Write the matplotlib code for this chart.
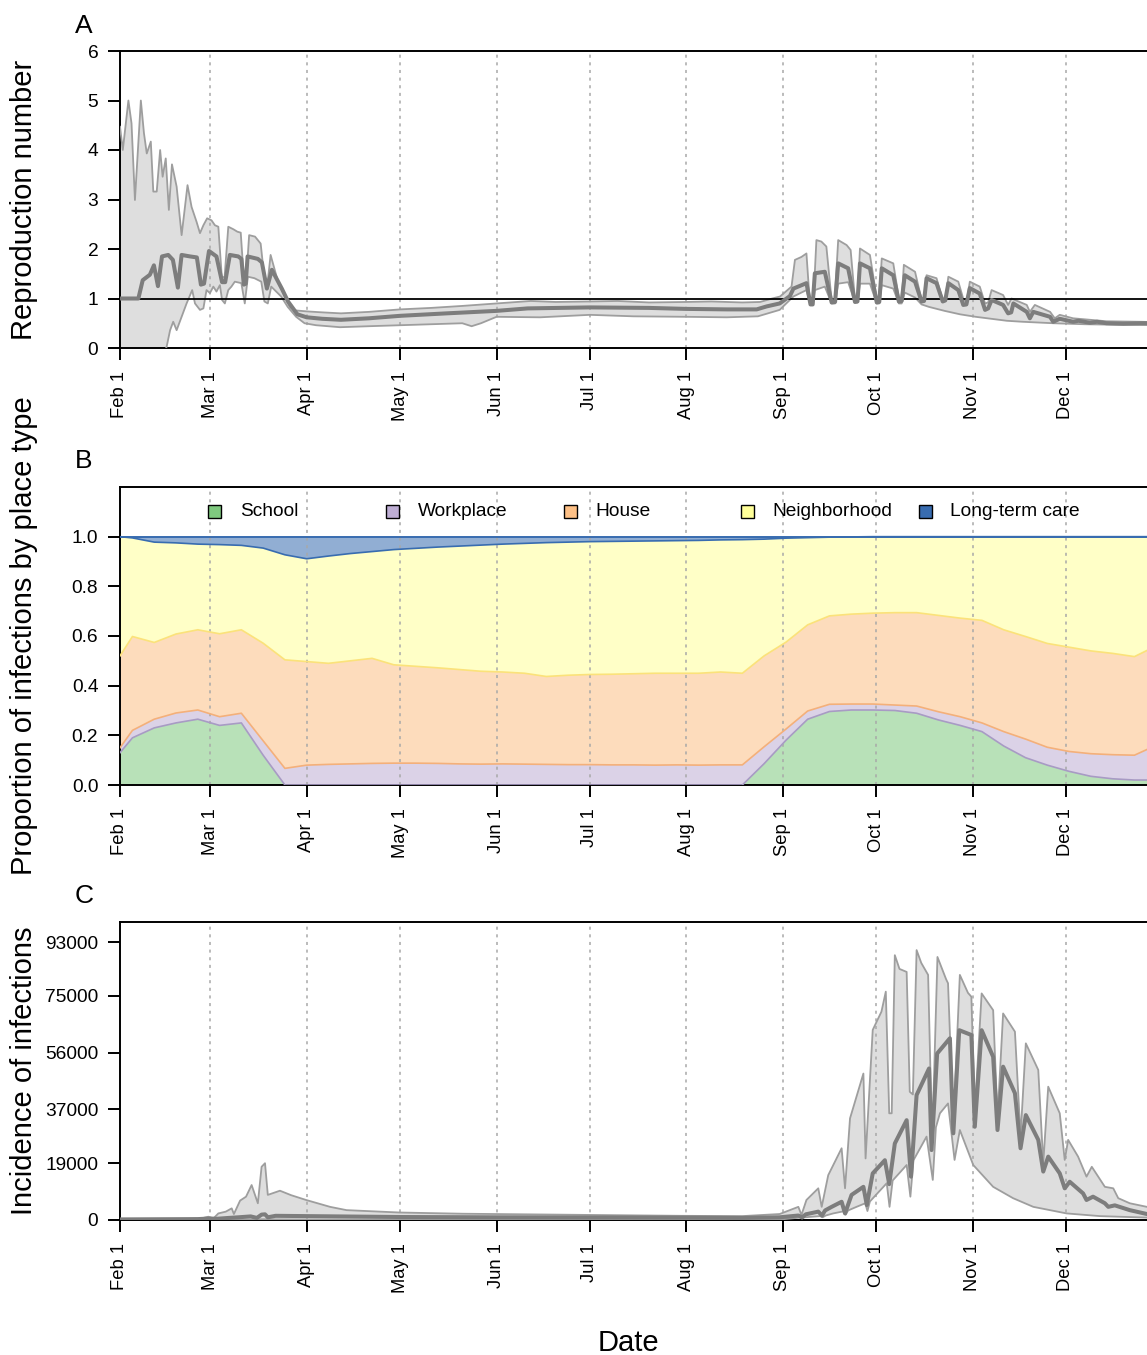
import numpy as np
import pandas as pd
import matplotlib
matplotlib.use('Agg')
import matplotlib.pyplot as plt
from matplotlib.patches import Rectangle

plt.rcParams['font.family'] = ['Liberation Sans', 'DejaVu Sans']

# days are counted from Feb 1 2020
month_labels = ['Feb 1', 'Mar 1', 'Apr 1', 'May 1', 'Jun 1', 'Jul 1',
                'Aug 1', 'Sep 1', 'Oct 1', 'Nov 1', 'Dec 1']

# panel A: reproduction number (day, value)
r_upper = [(0, 4.47), (0.9, 4.0), (2.7, 5.0), (3.7, 4.54), (4.8, 2.99), (6.7, 5.0), (7.7, 4.34),
           (8.6, 3.93), (9.9, 4.17), (10.7, 3.16), (11.8, 3.16), (12.9, 4.0), (13.7, 3.46),
           (14.7, 3.83), (15.7, 2.79), (16.7, 3.71), (18.2, 3.26), (19.8, 2.28), (21.7, 3.29),
           (23.0, 2.85), (24.6, 2.55), (25.7, 2.32), (26.8, 2.48), (28.0, 2.62), (29.4, 2.58),
           (30.5, 2.48), (31.6, 2.45), (32.7, 1.45), (33.6, 1.42), (34.8, 2.45), (36.4, 2.4),
           (37.7, 2.35), (38.8, 2.33), (39.8, 1.4), (40.6, 1.42), (41.5, 2.28), (43.4, 2.25),
           (45.2, 2.11), (46.6, 1.3), (47.4, 1.3), (48.4, 1.88), (50.9, 1.31), (53.0, 1.05),
           (54.6, 0.82), (56.2, 0.76), (60, 0.74), (65, 0.72), (71, 0.70), (80, 0.73), (90, 0.78),
           (100, 0.81), (110, 0.85), (121, 0.90), (132, 0.95), (140, 0.93), (151, 0.94),
           (160, 0.95), (170, 0.92), (182, 0.93), (190, 0.94), (200, 0.92), (205.7, 0.93),
           (209.6, 1.0), (212.1, 1.04), (215.8, 1.24), (216.9, 1.78), (219.0, 1.84), (220.6, 1.91),
           (221.7, 0.9), (222.8, 0.9), (223.8, 2.18), (225.4, 2.15), (227.0, 2.05), (228.7, 0.96),
           (229.7, 0.97), (230.8, 2.18), (233.5, 2.08), (234.8, 1.98), (236.2, 0.97), (237.0, 0.98),
           (237.8, 2.01), (241.0, 1.88), (243.2, 1.0), (244.0, 1.0), (244.8, 1.81), (248.5, 1.71),
           (250.4, 0.97), (251.2, 0.98), (251.9, 1.68), (255.5, 1.54), (257.6, 0.97), (258.4, 0.98),
           (259.2, 1.47), (262.4, 1.41), (264.4, 0.97), (265.3, 1.0), (266.2, 1.44), (269.4, 1.34),
           (271.2, 0.95), (272.2, 0.97), (273.1, 1.34), (276.3, 1.24), (278.0, 0.9), (279.0, 0.92),
           (280.1, 1.17), (283.8, 1.07), (285.4, 0.87), (286.5, 1.0), (291.4, 0.87), (292.4, 0.73),
           (294.0, 0.87), (298.9, 0.73), (300.4, 0.6), (302.0, 0.67), (306.3, 0.6), (311.7, 0.57),
           (317, 0.54), (327.8, 0.53), (336, 0.52)]
r_median = [(0, 1.0), (5.9, 1.0), (7.3, 1.37), (9.6, 1.48), (10.9, 1.67), (12.2, 1.25), (13.5, 1.85),
            (15.5, 1.88), (17.0, 1.78), (18.6, 1.22), (19.8, 1.88), (22.5, 1.85), (24.7, 1.83),
            (26.0, 1.28), (27.0, 1.3), (28.6, 1.96), (31.0, 1.85), (32.8, 1.33), (33.8, 1.33),
            (35.3, 1.88), (38.0, 1.85), (39.0, 1.8), (39.8, 1.28), (40.4, 1.3), (41.0, 1.85),
            (44.3, 1.8), (45.6, 1.73), (47.2, 1.2), (48.8, 1.58), (52.0, 1.2), (54.0, 0.94),
            (57.0, 0.68), (60, 0.62), (65, 0.59), (71, 0.57), (80, 0.60), (90, 0.65), (105, 0.70),
            (121, 0.75), (131, 0.80), (151, 0.82), (170, 0.81), (182, 0.79), (195, 0.78),
            (204.6, 0.78), (207.8, 0.84), (212, 0.9), (215.3, 1.05), (216.4, 1.2), (220.6, 1.31),
            (221.9, 0.88), (222.6, 0.88), (223.3, 1.51), (226.5, 1.54), (228.7, 0.92), (229.8, 0.93),
            (230.8, 1.71), (234.0, 1.61), (236.2, 0.93), (237.0, 0.94), (237.8, 1.71), (241.0, 1.61),
            (243.2, 0.92), (244.0, 0.93), (244.8, 1.61), (248.5, 1.47), (250.3, 0.94), (251.2, 0.95),
            (252.2, 1.47), (255.5, 1.34), (257.6, 0.94), (258.4, 0.95), (259.2, 1.41), (262.4, 1.31),
            (264.4, 0.94), (265.2, 0.96), (266.2, 1.31), (269.4, 1.17), (271.0, 0.87), (272.0, 0.88),
            (273.1, 1.21), (276.3, 1.10), (278.0, 0.77), (279.0, 0.8), (280.1, 0.97), (283.8, 0.87),
            (285.4, 0.70), (286.4, 0.72), (287.1, 0.90), (291.4, 0.73), (292.4, 0.60), (293.5, 0.73),
            (298.9, 0.63), (299.9, 0.53), (302.0, 0.59), (306.3, 0.53), (308, 0.55), (311.7, 0.51),
            (314, 0.53), (317, 0.50), (322.4, 0.49), (327.8, 0.50), (336, 0.50)]
r_lower = [(0, -2.5), (15.0, 0.03), (16.1, 0.36), (17.1, 0.53), (18.2, 0.36), (19.8, 0.63), (21.4, 0.9),
           (23.2, 1.17), (24.1, 0.9), (25.7, 0.77), (26.8, 0.8), (27.8, 1.17), (28.9, 1.11), (30.0, 1.24),
           (31.0, 1.14), (32.1, 1.27), (32.8, 0.97), (33.7, 0.9), (34.8, 1.17), (35.8, 1.24),
           (36.9, 1.34), (39.0, 1.31), (40.1, 0.9), (41.1, 1.44), (43.2, 1.41), (45.4, 1.34),
           (46.4, 0.94), (47.5, 0.9), (48.6, 1.24), (51.8, 1.04), (53.9, 0.83), (56.6, 0.63),
           (59.3, 0.5), (63, 0.46), (70.7, 0.42), (80, 0.44), (90, 0.46), (100, 0.48), (110, 0.5),
           (113, 0.44), (116, 0.5), (121, 0.63), (135, 0.62), (151, 0.67), (165, 0.64), (182, 0.63),
           (195, 0.62), (205, 0.64), (212, 0.77), (216.4, 1.04), (220.6, 1.17), (221.9, 0.87),
           (222.6, 0.87), (223.3, 1.17), (226.5, 1.24), (228.7, 0.9), (229.8, 0.9), (230.8, 1.3),
           (234.0, 1.33), (236.2, 0.92), (237.0, 0.92), (237.8, 1.3), (241.0, 1.3), (243.2, 0.9),
           (244.0, 0.9), (244.8, 1.27), (248.5, 1.2), (250.3, 0.9), (251.2, 0.9), (252.2, 1.12),
           (255.5, 1.02), (257.6, 0.88), (260, 0.83), (265, 0.75), (270, 0.68), (275, 0.63),
           (280, 0.59), (285, 0.55), (290, 0.53), (300, 0.5), (310, 0.48), (320, 0.47), (336, 0.46)]

# panel B: proportion of infections by place type, weekly
place_names = ['School', 'Workplace', 'House', 'Neighborhood', 'Long-term care']
place_colors = ['#7fc97f', '#beaed4', '#fdc086', '#ffff99', '#386cb0']
place_line_colors = ['#6fb86f', '#a89bc4', '#f4b07a', '#fbe27a', '#386cb0']
b_days = [0, 4, 11, 18, 25, 32, 39, 46, 53, 60, 67, 74, 81, 88, 95, 102, 109, 116, 123, 130,
          137, 144, 151, 158, 165, 172, 179, 186, 193, 200, 207, 214, 221, 228, 235, 242, 249,
          256, 263, 270, 277, 284, 291, 298, 305, 312, 319, 326, 333]
school = [.13, .19, .23, .25, .265, .24, .25, .12, 0,
          0, 0, 0, 0, 0, 0, 0, 0, 0, 0, 0, 0, 0, 0, 0, 0, 0, 0, 0, 0, 0,
          .086, .18, .265, .296, .302, .302, .30, .289, .262, .24, .215, .157, .11, .08, .055,
          .035, .025, .02, .02]
workplace = [.02, .03, .035, .04, .037, .035, .039, .058, .067,
             .08, .083, .085, .087, .088, .088, .087, .085, .084, .085, .084, .083, .082, .082,
             .081, .081, .08, .081, .08, .081, .081,
             .068, .045, .033, .029, .024, .024, .022, .029, .033, .035, .035, .058, .075, .072,
             .08, .091, .097, .10, .14]
house = [.37, .378, .309, .318, .323, .334, .336, .393, .437,
         .417, .407, .415, .423, .396, .39, .385, .38, .374, .37, .366, .354, .36, .363, .365,
         .367, .37, .369, .37, .374, .369,
         .366, .35, .347, .356, .362, .366, .372, .376, .388, .397, .413, .41, .413, .418, .42,
         .414, .408, .397, .40]
neighborhood = [.48, .397, .404, .367, .345, .359, .34, .383, .423,
                .414, .432, .432, .43, .464, .475, .486, .497, .508, .515, .523, .539, .536, .535,
                .535, .534, .533, .534, .535, .532, .538,
                .47, .419, .351, .317, .311, .308, .306, .306, .317, .328, .337, .375, .402, .43,
                .445, .46, .47, .483, .44]
long_term_care = [0, .005, .022, .025, .03, .032, .035, .046, .073,
                  .089, .078, .068, .06, .052, .047, .042, .038, .034, .03, .027, .024, .022, .02,
                  .019, .018, .017, .016, .015, .013, .012,
                  .01, .006, .004, .002, .001, 0, 0, 0, 0, 0, 0, 0, 0, 0, 0, 0, 0, 0, 0]

# panel C: incidence of infections (day, value)
inc_ticks = [0, 19000, 37000, 56000, 75000, 93000]
inc_upper = [(0, 300), (20, 300), (26, 500), (28.4, 1100), (30, 500), (31.6, 2200), (34, 2800),
             (35.9, 3900), (36.6, 2000), (38.6, 6500), (40.5, 7800), (42.3, 11700), (44.3, 5600),
             (45.5, 17800), (46.6, 19000), (47.5, 8400), (51.4, 9800), (55, 8300), (59.8, 6700),
             (67.5, 4400), (72.8, 3300), (83.5, 2800), (90, 2500), (110, 2100), (130, 1900),
             (150, 1700), (180, 1400), (200, 1300), (212, 2000), (213, 2400), (218, 4400),
             (219, 1700), (220.6, 6700), (224.4, 10600), (225.5, 4400), (227.6, 15000),
             (231.9, 24000), (233, 10600), (234.6, 34000), (238.9, 49000), (239.6, 20600),
             (241.9, 63600), (244.7, 69700), (246.1, 76400), (247.2, 35700), (248, 35700),
             (249, 88600), (250.5, 84000), (252.8, 83000), (253.8, 42900), (254.8, 42000),
             (256, 90300), (257.5, 86000), (259.7, 82000), (261, 26000), (262.7, 88000),
             (265.5, 80500), (266.1, 79200), (267.8, 32000), (269.9, 82000), (272.5, 76000),
             (273.6, 74700), (274.7, 36000), (276.9, 75800), (280.6, 70200), (282, 34000),
             (283.8, 69100), (287.6, 63000), (289.4, 28000), (291.1, 59100), (295.1, 50200),
             (296.7, 19000), (298.3, 44600), (302, 35700), (303.6, 20100), (304.7, 26800),
             (307.9, 21200), (310.6, 14500), (312.3, 17800), (316.5, 11100), (319.2, 10600),
             (320.8, 7300), (324.5, 5600), (330, 4400), (336, 3500)]
inc_median = [(0, 200), (25, 300), (29, 500), (31, 400), (35, 700), (38, 900), (42, 1200), (44, 700),
              (45.5, 1800), (46.6, 1900), (47.5, 900), (50, 1400), (60, 1300), (90, 1000),
              (120, 900), (150, 850), (180, 800), (200, 700), (212, 900), (218, 1500), (219.2, 900),
              (220.4, 1900), (224.4, 2800), (225.6, 1500), (226.6, 3200), (228.7, 4400),
              (231.9, 6100), (233.0, 2200), (235.1, 8400), (238.9, 11100), (240.0, 5000),
              (241.9, 15600), (245.8, 20000), (247.2, 12000), (249.0, 25600), (252.8, 33400),
              (254.2, 14500), (256.0, 41800), (260.0, 50700), (260.8, 23400), (262.6, 55700),
              (266.7, 60800), (267.8, 29000), (269.7, 63500), (273.6, 61900), (274.7, 31200),
              (276.9, 63500), (280.6, 54600), (282.0, 30100), (283.8, 51300), (287.6, 42400),
              (289.4, 24000), (291.1, 35100), (295.1, 26800), (296.7, 16200), (298.3, 21200),
              (302.0, 15600), (303.6, 10600), (305.2, 12800), (309.5, 8900), (310.6, 6700),
              (312.7, 7800), (316.5, 5600), (317.6, 4400), (319.7, 4900), (324.5, 3300),
              (330, 2000), (336, 1800)]
inc_lower = [(0, 0), (30, 50), (40, 100), (46, 250), (50, 200), (60, 150), (100, 100), (200, 100),
             (212, 150), (218.5, 800), (219.2, 500), (220, 900), (225, 1300), (225.8, 900),
             (226.8, 1500), (229.2, 2200), (232.5, 2900), (233.2, 1800), (234, 3200),
             (236.7, 4400), (239.5, 5600), (240.2, 3000), (241, 6200), (246.4, 12300),
             (247.3, 4400), (248.3, 13200), (252.8, 18400), (254, 7800), (255, 20000),
             (259.2, 27900), (261.2, 13400), (262.2, 31000), (263.5, 35700), (266.1, 39000),
             (268.2, 20100), (269.9, 30100), (274.2, 18400), (280.6, 11100), (287, 7300),
             (293.5, 4400), (304.2, 2200), (314.9, 1300), (330, 800), (336, 700)]

W, H = 1147, 1355
X_END = 358
start = pd.Timestamp('2020-02-01')
month_days = [(m - start).days for m in pd.date_range('2020-02-01', '2020-12-01', freq='MS')]

fig = plt.figure(figsize=(W / 100, H / 100), dpi=100)


def make_axes(top, bottom):
    ax = fig.add_axes([120 / W, 1 - bottom / H, 1114 / W, (bottom - top) / H])
    ax.set_xlim(0, X_END)
    for s in ax.spines.values():
        s.set_linewidth(1.4)
    ax.set_xticks(month_days)
    ax.set_xticklabels(month_labels, rotation=90)
    ax.tick_params(axis='both', direction='out', length=8.6, width=1.4)
    ax.tick_params(axis='x', labelsize=13.2, pad=8)
    ax.tick_params(axis='y', labelsize=13.8, pad=7)
    for d in month_days[1:]:
        ax.axvline(d, color='#a8a8a8', lw=1.1, ls=(0, (2, 3)), zorder=2)
    return ax


def band(ax, upper, median, lower):
    ud, uv = zip(*upper)
    md, mv = zip(*median)
    ld, lv = zip(*lower)
    ax.fill(np.r_[ud, ld[::-1]], np.r_[uv, lv[::-1]], color='#dedede', lw=0, zorder=1)
    ax.plot(ud, uv, color='#9e9e9e', lw=1.3, zorder=3)
    ax.plot(ld, lv, color='#9e9e9e', lw=1.3, zorder=3)
    ax.plot(md, mv, color='#7d7d7d', lw=2.9, zorder=4)


# A
axA = make_axes(51, 348)
band(axA, r_upper, r_median, r_lower)
axA.axhline(1, color='black', lw=1.3, zorder=3.5)
axA.set_ylim(0, 6)
axA.set_yticks(range(0, 7))

# B
axB = make_axes(487, 785)
shares = [school, workplace, house, neighborhood, long_term_care]
axB.stackplot(b_days, shares, colors=place_colors, alpha=0.55, lw=0, zorder=1)
cum = np.cumsum(np.array(shares), axis=0)
for i in range(1, 5):
    axB.plot(b_days, cum[i - 1], color=place_line_colors[i], lw=1.2, zorder=3)
axB.plot(b_days, cum[4], color=place_line_colors[4], lw=1.4, zorder=3)
axB.set_ylim(0, 1.2)
axB.set_yticks([0, 0.2, 0.4, 0.6, 0.8, 1.0])
axB.set_yticklabels(['0.0', '0.2', '0.4', '0.6', '0.8', '1.0'])

# legend row, evenly spaced like the original
leg_y = 1 - (511 - 487) / 298
for i, (name, col) in enumerate(zip(place_names, place_colors)):
    cx = (215 + i * 177.5 - 120) / 1114
    axB.add_patch(Rectangle((cx - 6.5 / 1114, leg_y - 6.5 / 298), 13 / 1114, 13 / 298,
                            transform=axB.transAxes, facecolor=col, edgecolor='black',
                            lw=1.0, zorder=5))
    axB.text(cx + 25 / 1114, leg_y, name, transform=axB.transAxes,
             fontsize=13.8, va='center', ha='left', zorder=5)

# C
axC = make_axes(922, 1220)
band(axC, inc_upper, inc_median, inc_lower)
axC.set_ylim(0, 99700)
axC.set_yticks(inc_ticks)
axC.set_yticklabels([str(t) for t in inc_ticks])

# labels
for letter, y in [('A', 26), ('B', 461), ('C', 896)]:
    fig.text(84 / W, 1 - y / H, letter, fontsize=19, ha='center', va='center')
for label, y in [('Reproduction number', 200), ('Proportion of infections by place type', 636),
                 ('Incidence of infections', 1071)]:
    fig.text(24 / W, 1 - y / H, label, fontsize=21, rotation=90, ha='center', va='center')
fig.text(628 / W, 1 - 1343 / H, 'Date', fontsize=21, ha='center', va='center')

fig.savefig('out.png', dpi=100)
